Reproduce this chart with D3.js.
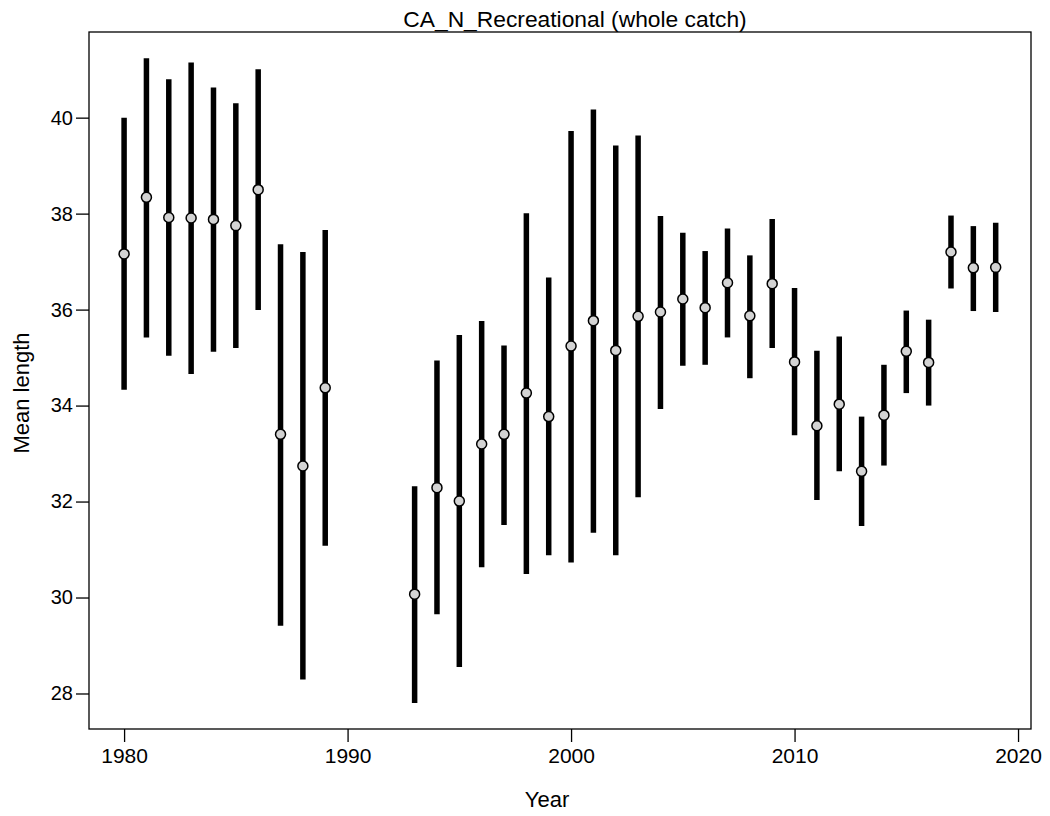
<!DOCTYPE html>
<html lang="en">
<head>
  <meta charset="UTF-8">
  <title>CA_N_Recreational (whole catch)</title>
  <script src="https://d3js.org/d3.v7.min.js"></script>
  <style>
    body { margin: 0; background: #fff; }
    svg { display: block; font-family: "Liberation Sans", Arial, sans-serif; }
  </style>
</head>
<body>
  <svg width="1050" height="816"></svg>
  <script>
    // Mean length by year with interval
    const years = [1980, 1981, 1982, 1983, 1984, 1985, 1986, 1987, 1988, 1989,
                   1993, 1994, 1995, 1996, 1997, 1998, 1999, 2000, 2001, 2002,
                   2003, 2004, 2005, 2006, 2007, 2008, 2009, 2010, 2011, 2012,
                   2013, 2014, 2015, 2016, 2017, 2018, 2019];
    const meanLen = [37.16, 38.34, 37.92, 37.91, 37.88, 37.75, 38.50, 33.40, 32.74, 34.37,
                     30.07, 32.29, 32.01, 33.20, 33.40, 34.26, 33.77, 35.24, 35.77, 35.15,
                     35.86, 35.95, 36.22, 36.04, 36.56, 35.87, 36.54, 34.91, 33.58, 34.03,
                     32.63, 33.80, 35.13, 34.90, 37.20, 36.87, 36.88];
    const upper = [40.00, 41.24, 40.80, 41.15, 40.63, 40.30, 41.01, 37.36, 37.20, 37.66,
                   32.32, 34.94, 35.47, 35.76, 35.25, 38.01, 36.67, 39.72, 40.17, 39.42,
                   39.63, 37.95, 37.60, 37.22, 37.69, 37.13, 37.89, 36.45, 35.14, 35.44,
                   33.77, 34.85, 35.98, 35.79, 37.96, 37.74, 37.81];
    const lower = [34.33, 35.42, 35.04, 34.66, 35.12, 35.20, 35.99, 29.41, 28.29, 31.08,
                   27.80, 29.65, 28.55, 30.63, 31.51, 30.49, 30.88, 30.73, 31.35, 30.88,
                   32.09, 33.93, 34.83, 34.85, 35.42, 34.57, 35.20, 33.38, 32.03, 32.63,
                   31.49, 32.75, 34.26, 34.00, 36.44, 35.97, 35.95];
    const xTicks = [1980, 1990, 2000, 2010, 2020];
    const yTicks = [28, 30, 32, 34, 36, 38, 40];

    const data = years.map((y, i) => ({ year: y, mean: meanLen[i], hi: upper[i], lo: lower[i] }));

    const svg = d3.select("svg");
    const box = { left: 89, right: 1031, top: 32, bottom: 729 };

    const x = d3.scaleLinear().domain([1978.43, 2020.58]).range([box.left, box.right]);
    const y = d3.scaleLinear().domain([27.26, 41.785]).range([box.bottom, box.top]);

    // axes
    const xAxis = svg.append("g")
      .attr("transform", `translate(0,${box.bottom})`)
      .call(d3.axisBottom(x).tickValues(xTicks).tickFormat(d3.format("d")).tickSize(13).tickPadding(6));
    const yAxis = svg.append("g")
      .attr("transform", `translate(${box.left},0)`)
      .call(d3.axisLeft(y).tickValues(yTicks).tickSize(13).tickPadding(3));

    [xAxis, yAxis].forEach(g => {
      g.select(".domain").remove();
      g.selectAll("line").attr("stroke", "#000").attr("stroke-width", 1.3);
      g.selectAll("text").attr("fill", "#000")
        .attr("font-family", "Liberation Sans, Arial, sans-serif");
    });
    xAxis.selectAll("text").attr("font-size", 21);
    yAxis.selectAll("text").attr("font-size", 20);

    // plot box
    svg.append("rect")
      .attr("x", box.left).attr("y", box.top)
      .attr("width", box.right - box.left).attr("height", box.bottom - box.top)
      .attr("fill", "none").attr("stroke", "#000").attr("stroke-width", 1.3);

    // interval bars
    svg.append("g").selectAll("line")
      .data(data).join("line")
      .attr("x1", d => x(d.year)).attr("x2", d => x(d.year))
      .attr("y1", d => y(d.lo)).attr("y2", d => y(d.hi))
      .attr("stroke", "#000").attr("stroke-width", 5.5);

    // mean points
    svg.append("g").selectAll("circle")
      .data(data).join("circle")
      .attr("cx", d => x(d.year)).attr("cy", d => y(d.mean))
      .attr("r", 5)
      .attr("fill", "#d3d3d3").attr("stroke", "#000").attr("stroke-width", 1.5);

    // titles
    svg.append("text")
      .attr("x", 575).attr("y", 27)
      .attr("text-anchor", "middle").attr("font-size", 22.8)
      .text("CA_N_Recreational (whole catch)");

    svg.append("text")
      .attr("x", 547).attr("y", 807)
      .attr("text-anchor", "middle").attr("font-size", 22)
      .text("Year");

    svg.append("text")
      .attr("transform", "translate(29,393) rotate(-90)")
      .attr("text-anchor", "middle").attr("font-size", 22)
      .text("Mean length");
  </script>
</body>
</html>
